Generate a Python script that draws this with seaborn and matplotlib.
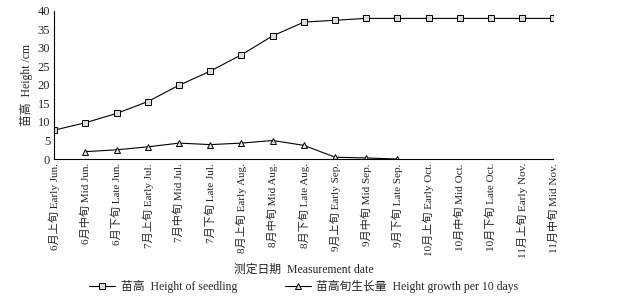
import numpy as np
import pandas as pd
import seaborn as sns
import matplotlib.pyplot as plt

sns.set_theme(style="white")
plt.rcParams["font.family"] = ["Liberation Serif", "Noto Sans CJK SC"]

# ── Data ────────────────────────────────────────────────
dates = [
    "6月上旬 Early Jun.", "6月中旬 Mid Jun.", "6月下旬 Late Jun.",
    "7月上旬 Early Jul.", "7月中旬 Mid Jul.", "7月下旬 Late Jul.",
    "8月上旬 Early Aug.", "8月中旬 Mid Aug.", "8月下旬 Late Aug.",
    "9月上旬 Early Sep.", "9月中旬 Mid Sep.", "9月下旬 Late Sep.",
    "10月上旬 Early Oct.", "10月中旬 Mid Oct.", "10月下旬 Late Oct.",
    "11月上旬 Early Nov.", "11月中旬 Mid Nov.",
]
height = [7.8, 9.8, 12.3, 15.5, 19.9, 23.7, 28.1, 33.2, 36.9,
          37.4, 37.9, 37.9, 37.9, 37.9, 37.9, 37.9, 37.9]
growth = [np.nan, 2.0, 2.5, 3.3, 4.3, 3.9, 4.3, 5.0, 3.7,
          0.5, 0.3, 0.0, np.nan, np.nan, np.nan, np.nan, np.nan]

df = pd.DataFrame({"pos": range(len(dates)), "height": height, "growth": growth})

fig = plt.figure(figsize=(6.24, 3.03), dpi=100)
ax = fig.add_axes([0.087, 0.475, 0.80, 0.49])

sns.lineplot(data=df, x="pos", y="height", ax=ax, color="black", lw=0.8,
             marker="s", markersize=5, markerfacecolor="#dddddd",
             markeredgecolor="black", markeredgewidth=0.7,
             label="苗高  Height of seedling")
sns.lineplot(data=df.dropna(), x="pos", y="growth", ax=ax, color="black", lw=0.8,
             marker="^", markersize=5, markerfacecolor="#dddddd",
             markeredgecolor="black", markeredgewidth=0.7,
             label="苗高旬生长量  Height growth per 10 days")

ax.set_xlim(0, len(dates) - 1)
ax.set_ylim(0, 40)
ax.set_yticks(range(0, 41, 5))
ax.set_xticks(range(len(dates)))
ax.set_xticklabels(dates, rotation=90, fontsize=8)
ax.tick_params(axis="y", labelsize=9, direction="in", length=3, width=0.7, pad=3)
ax.tick_params(axis="x", direction="in", length=3, width=0.7, pad=3)
for s in ["top", "right"]:
    ax.spines[s].set_visible(False)
for s in ["left", "bottom"]:
    ax.spines[s].set_color("black")
    ax.spines[s].set_linewidth(0.8)

ax.set_xlabel("测定日期  Measurement date", fontsize=8.5, labelpad=4)
ax.set_ylabel("苗高  Height /cm", fontsize=8.5, labelpad=3)

ax.legend(loc="center", bbox_to_anchor=(0.5, -0.86), ncol=2,
          frameon=False, fontsize=8.5, handlelength=2.2, columnspacing=4,
          handletextpad=0.5)

fig.savefig("out.png", dpi=100)
